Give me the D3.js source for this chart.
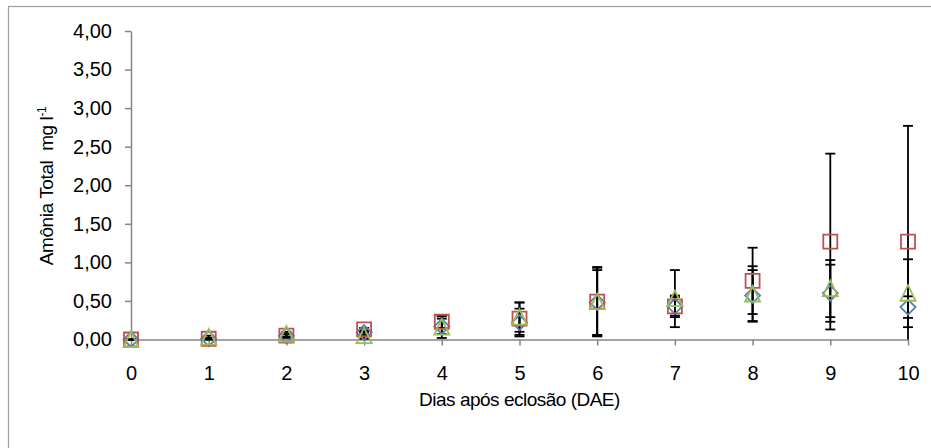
<!DOCTYPE html>
<html>
<head>
<meta charset="utf-8">
<script src="https://cdn.jsdelivr.net/npm/d3@7"></script>
<style>
  body { margin: 0; background: #fff; }
  text { font-family: "Liberation Sans", Arial, sans-serif; fill: #000; }
</style>
</head>
<body>
<div id="chart"></div>
<script>
// days after hatching
const days = [0, 1, 2, 3, 4, 5, 6, 7, 8, 9, 10];

// series 1 (blue diamond)
const diamondMean = [0.00, 0.01, 0.05, 0.09, 0.17, 0.22, 0.48, 0.43, 0.57, 0.60, 0.42];
const diamondSd   = [0.00, 0.01, 0.03, 0.03, 0.10, 0.18, 0.42, 0.12, 0.33, 0.37, 0.14];

// series 2 (red square)
const squareMean = [0.00, 0.01, 0.05, 0.13, 0.23, 0.27, 0.49, 0.43, 0.76, 1.27, 1.27];
const squareSd   = [0.00, 0.01, 0.02, 0.02, 0.08, 0.21, 0.45, 0.14, 0.43, 1.14, 1.50];

// series 3 (green triangle)
const triangleMean = [0.00, 0.03, 0.07, 0.05, 0.16, 0.29, 0.49, 0.53, 0.59, 0.66, 0.60];
const triangleSd   = [0.00, 0.02, 0.03, 0.04, 0.14, 0.19, 0.44, 0.37, 0.36, 0.37, 0.44];

const yTicks = [0, 0.5, 1, 1.5, 2, 2.5, 3, 3.5, 4];

const width = 931, height = 448;
const margin = {top: 31, right: 23, bottom: 108.5, left: 131};

const svg = d3.select("#chart").append("svg")
    .attr("width", width)
    .attr("height", height);

// outer chart frame (only top and left edges fall inside the picture)
svg.append("rect")
    .attr("x", 8.5).attr("y", 6.5)
    .attr("width", 940).attr("height", 460)
    .attr("fill", "none")
    .attr("stroke", "#a0a0a0")
    .attr("stroke-width", 1.2);

const x = d3.scaleLinear().domain([0, 10]).range([margin.left, width - margin.right]);
const y = d3.scaleLinear().domain([0, 4]).range([height - margin.bottom, margin.top]);

const fmt = d => d.toFixed(2).replace(".", ",");

// axes
const xAxis = svg.append("g")
    .attr("transform", `translate(0,${y(0)})`)
    .call(d3.axisBottom(x).tickValues(days).tickSize(6).tickSizeOuter(0).tickFormat(d3.format("d")));
xAxis.selectAll("text").attr("y", 26).attr("font-size", 20);

const yAxis = svg.append("g")
    .attr("transform", `translate(${x(0)},0)`)
    .call(d3.axisLeft(y).tickValues(yTicks).tickSize(6).tickSizeOuter(0).tickFormat(fmt));
yAxis.selectAll("text").attr("x", -19).attr("font-size", 20);

svg.selectAll(".domain, .tick line")
    .attr("stroke", "#868686")
    .attr("stroke-width", 1.5);
svg.selectAll(".tick text").attr("font-family", "Liberation Sans, Arial, sans-serif").attr("fill", "#000");

// axis titles
svg.append("text")
    .attr("x", (x(0) + x(10)) / 2)
    .attr("y", 406)
    .attr("text-anchor", "middle")
    .attr("font-size", 19)
    .attr("letter-spacing", -0.5)
    .text("Dias após eclosão (DAE)");

const yTitle = svg.append("text")
    .attr("transform", "translate(53,186) rotate(-90)")
    .attr("text-anchor", "middle")
    .attr("font-size", 19)
    .attr("letter-spacing", -0.4)
    .style("white-space", "pre");
yTitle.append("tspan").text("Amônia Total  mg l");
yTitle.append("tspan").attr("font-size", 12).attr("dy", -7).text("-1");

const series = [
    {mean: diamondMean, sd: diamondSd, color: "#4F81BD", shape: "diamond"},
    {mean: squareMean, sd: squareSd, color: "#C0504D", shape: "square"},
    {mean: triangleMean, sd: triangleSd, color: "#9BBB59", shape: "triangle"}
];

// error bars (clipped at the plot floor)
const capW = 5;
const errG = svg.append("g").attr("stroke", "#000").attr("stroke-width", 1.8);
series.forEach(s => {
    days.forEach((d, i) => {
        const hi = s.mean[i] + s.sd[i];
        const lo = s.mean[i] - s.sd[i];
        const cx = x(d);
        errG.append("line")
            .attr("x1", cx).attr("x2", cx)
            .attr("y1", y(hi)).attr("y2", y(Math.max(0, lo)));
        errG.append("line")
            .attr("x1", cx - capW).attr("x2", cx + capW)
            .attr("y1", y(hi)).attr("y2", y(hi));
        if (lo >= 0) {
            errG.append("line")
                .attr("x1", cx - capW).attr("x2", cx + capW)
                .attr("y1", y(lo)).attr("y2", y(lo));
        }
    });
});

// markers
const markerPath = {
    square: "M-7,-7H7V7H-7Z",
    diamond: "M0,-7.5L7.5,0L0,7.5L-7.5,0Z",
    triangle: "M0,-8L7.5,7.5H-7.5Z"
};
series.forEach(s => {
    svg.append("g").selectAll("path")
        .data(days)
        .join("path")
        .attr("transform", (d, i) => `translate(${x(d)},${y(s.mean[i])})`)
        .attr("d", markerPath[s.shape])
        .attr("fill", "none")
        .attr("stroke", s.color)
        .attr("stroke-width", 1.8);
});
</script>
</body>
</html>
